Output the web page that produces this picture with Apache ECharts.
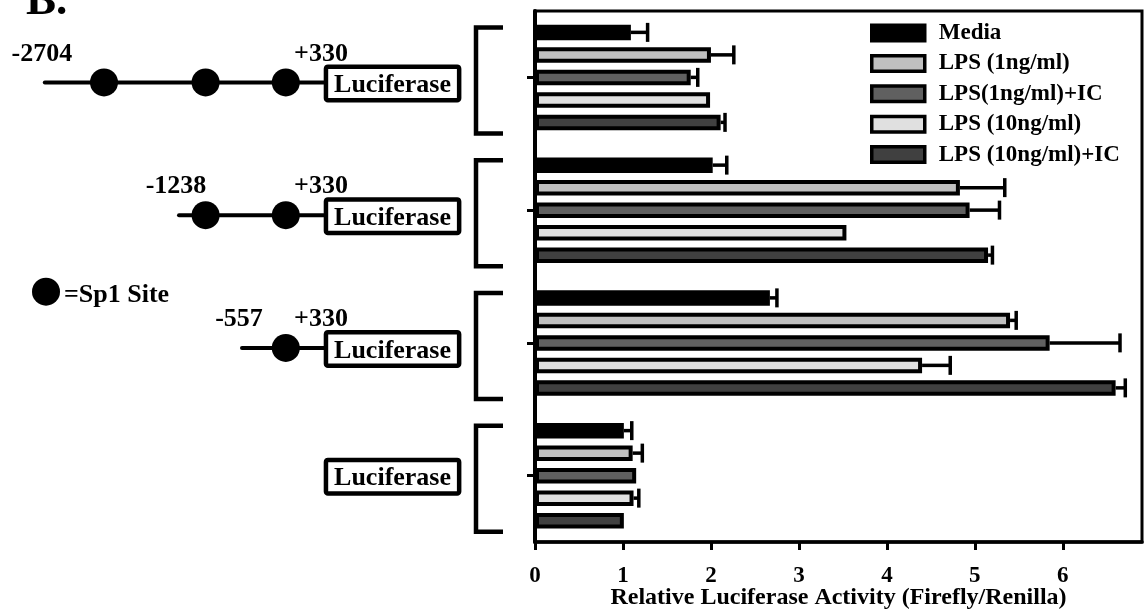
<!DOCTYPE html>
<html>
<head>
<meta charset="utf-8">
<script src="https://cdn.jsdelivr.net/npm/echarts@6/dist/echarts.min.js"></script>
<style>
html,body{margin:0;padding:0;background:#fff;}
#chart{width:1144px;height:610px;}
</style>
</head>
<body>
<div id="chart"></div>
<script>
// ---- data ----
const categories = ['-2704/+330', '-1238/+330', '-557/+330', 'Luciferase'];
const constructStart = ['-2704', '-1238', '-557', ''];
const constructEnd = ['+330', '+330', '+330', ''];
const sp1Sites = [3, 2, 1, 0];
const seriesNames = ['Media', 'LPS (1ng/ml)', 'LPS(1ng/ml)+IC', 'LPS (10ng/ml)', 'LPS (10ng/ml)+IC'];
const media      = [1.09, 2.02, 2.67, 1.01];
const mediaErr   = [0.19, 0.16, 0.08, 0.09];
const lps1       = [2.00, 4.83, 5.40, 1.11];
const lps1Err    = [0.26, 0.51, 0.07, 0.11];
const lps1IC     = [1.77, 4.94, 5.85, 1.15];
const lps1ICErr  = [0.08, 0.34, 0.80, 0];
const lps10      = [1.99, 3.54, 4.40, 1.12];
const lps10Err   = [0, 0, 0.32, 0.06];
const lps10IC    = [2.11, 5.15, 6.60, 1.01];
const lps10ICErr = [0.05, 0.05, 0.11, 0];
const xTicks = [0, 1, 2, 3, 4, 5, 6];

// ---- style ----
const FONT = "'Liberation Serif', 'Times New Roman', serif";
const colors = ['#000000', '#c0c0c0', '#606060', '#e0e0e0', '#404040'];
const values = [media, lps1, lps1IC, lps10, lps10IC];
const errs = [mediaErr, lps1Err, lps1ICErr, lps10Err, lps10ICErr];
const BAR_W = 15.5, BAR_GAP = 7 / 15.5, PITCH = BAR_W * (1 + BAR_GAP);

// diagram layout (pixels)
const LAY = {
  lineStart: [44.8, 179, 242],
  sites: [104, 205.6, 285.8],
  boxL: 323.7, boxR: 461.4, boxH: 38, boxBorder: 4.5,
  endLabelX: 321,
  bracketX: 476, bracketEnd: 503, bracketHalf: 53, bracketOff: 3,
  rowOff: 5, labelOff: -28.5
};

const chart = echarts.init(document.getElementById('chart'), null, {renderer: 'canvas'});

const series = [];
seriesNames.forEach((name, i) => {
  series.push({
    type: 'bar', name: name, data: values[i],
    barWidth: BAR_W, barGap: (BAR_GAP * 100) + '%',
    itemStyle: {color: colors[i], borderColor: '#000', borderWidth: 4},
    z: 2
  });
});
seriesNames.forEach((name, i) => {
  series.push({
    type: 'custom', name: name + ' err', silent: true, z: 3,
    encode: {x: 1, y: 0},
    data: values[i].map((v, c) => [c, v, errs[i][c]]),
    renderItem: function (params, api) {
      const c = api.value(0), v = api.value(1), e = api.value(2);
      if (!(e > 0)) return null;
      const p0 = api.coord([v, c]);
      const p1 = api.coord([v + e, c]);
      const y = p0[1] + (i - 2) * PITCH;
      return {
        type: 'group', children: [
          {type: 'line', shape: {x1: p0[0], y1: y, x2: p1[0], y2: y}, style: {stroke: '#000', lineWidth: 3.5}},
          {type: 'line', shape: {x1: p1[0], y1: y - 9.5, x2: p1[0], y2: y + 9.5}, style: {stroke: '#000', lineWidth: 3.5}}
        ]
      };
    }
  });
});
// promoter construct diagram beside each category
series.push({
  type: 'custom', name: 'constructs', silent: true, clip: false, z: 5,
  encode: {x: 0, y: 1},
  data: categories.map((c, k) => [0, k]),
  renderItem: function (params, api) {
    const k = api.value(1);
    const cy = api.coord([0, k])[1];
    const n = sp1Sites[k];
    const hasPromoter = k < LAY.lineStart.length;
    const ry = cy + (hasPromoter ? LAY.rowOff : 0);
    const ch = [];
    const by = cy + LAY.bracketOff;
    ch.push({type: 'polyline', shape: {points: [
      [LAY.bracketEnd, by - LAY.bracketHalf], [LAY.bracketX, by - LAY.bracketHalf],
      [LAY.bracketX, by + LAY.bracketHalf], [LAY.bracketEnd, by + LAY.bracketHalf]]},
      style: {stroke: '#000', lineWidth: 4.5, fill: null, lineJoin: 'miter'}});
    if (hasPromoter) {
      ch.push({type: 'line', shape: {x1: LAY.lineStart[k], y1: ry, x2: LAY.boxL, y2: ry},
        style: {stroke: '#000', lineWidth: 4, lineCap: 'round'}});
      for (let s = LAY.sites.length - n; s < LAY.sites.length; s++) {
        ch.push({type: 'circle', shape: {cx: LAY.sites[s], cy: ry, r: 14}, style: {fill: '#000'}});
      }
      ch.push({type: 'text', style: {text: constructStart[k], x: LAY.lineStart[k] - 3, y: ry + LAY.labelOff,
        align: 'center', verticalAlign: 'middle', font: 'bold 26px ' + FONT, fill: '#000'}});
      ch.push({type: 'text', style: {text: constructEnd[k], x: LAY.endLabelX, y: ry + LAY.labelOff,
        align: 'center', verticalAlign: 'middle', font: 'bold 26px ' + FONT, fill: '#000'}});
    }
    const bb = LAY.boxBorder;
    ch.push({type: 'rect', shape: {x: LAY.boxL + bb / 2, y: ry + 1 - LAY.boxH / 2 + bb / 2,
      width: LAY.boxR - LAY.boxL - bb, height: LAY.boxH - bb, r: 2},
      style: {fill: '#fff', stroke: '#000', lineWidth: bb}});
    ch.push({type: 'text', style: {text: 'Luciferase', x: (LAY.boxL + LAY.boxR) / 2, y: ry + 3,
      align: 'center', verticalAlign: 'middle', font: 'bold 26px ' + FONT, fill: '#000'}});
    return {type: 'group', children: ch};
  }
});

chart.setOption({
  animation: false,
  backgroundColor: '#fff',
  textStyle: {fontFamily: FONT},
  grid: {left: 535, right: 2, top: 11, bottom: 68, show: true, borderColor: '#000', borderWidth: 3,
         containLabel: false, outerBoundsMode: 'none'},
  legend: {
    data: seriesNames, orient: 'vertical', left: 870, top: 21.5, padding: 0,
    itemWidth: 53, itemHeight: 15.5, itemGap: 7.4, icon: 'rect',
    itemStyle: {borderColor: '#000', borderWidth: 3.5},
    textStyle: {fontFamily: FONT, fontWeight: 'bold', fontSize: 23, color: '#000', lineHeight: 23, padding: [0, 0, 0, 9]},
    selectedMode: false
  },
  xAxis: {
    type: 'value', min: 0, max: 6.9,
    name: 'Relative Luciferase Activity (Firefly/Renilla)',
    nameLocation: 'middle', nameGap: 44, nameMoveOverlap: false,
    nameTextStyle: {fontFamily: FONT, fontWeight: 'bold', fontSize: 24, color: '#000'},
    axisLine: {show: true, lineStyle: {color: '#000', width: 3.5}},
    axisTick: {show: true, length: 8, lineStyle: {color: '#000', width: 3}, customValues: xTicks},
    axisLabel: {customValues: xTicks, margin: 23, fontFamily: FONT, fontWeight: 'bold', fontSize: 23, color: '#000'},
    splitLine: {show: false}
  },
  yAxis: {
    type: 'category', data: categories, inverse: true,
    axisLine: {show: true, lineStyle: {color: '#000', width: 4}},
    axisTick: {show: true, alignWithLabel: true, length: 8, lineStyle: {color: '#000', width: 3}},
    axisLabel: {show: false},
    splitLine: {show: false}
  },
  graphic: [
    {type: 'text', left: 26, top: -20, style: {text: 'B.', font: 'bold 45px ' + FONT, fill: '#000'}},
    {type: 'circle', shape: {cx: 46, cy: 291.7, r: 14}, style: {fill: '#000'}},
    {type: 'text', style: {text: '=Sp1 Site', x: 64, y: 295, verticalAlign: 'middle', font: 'bold 26px ' + FONT, fill: '#000'}}
  ],
  series: series
});
</script>
</body>
</html>
